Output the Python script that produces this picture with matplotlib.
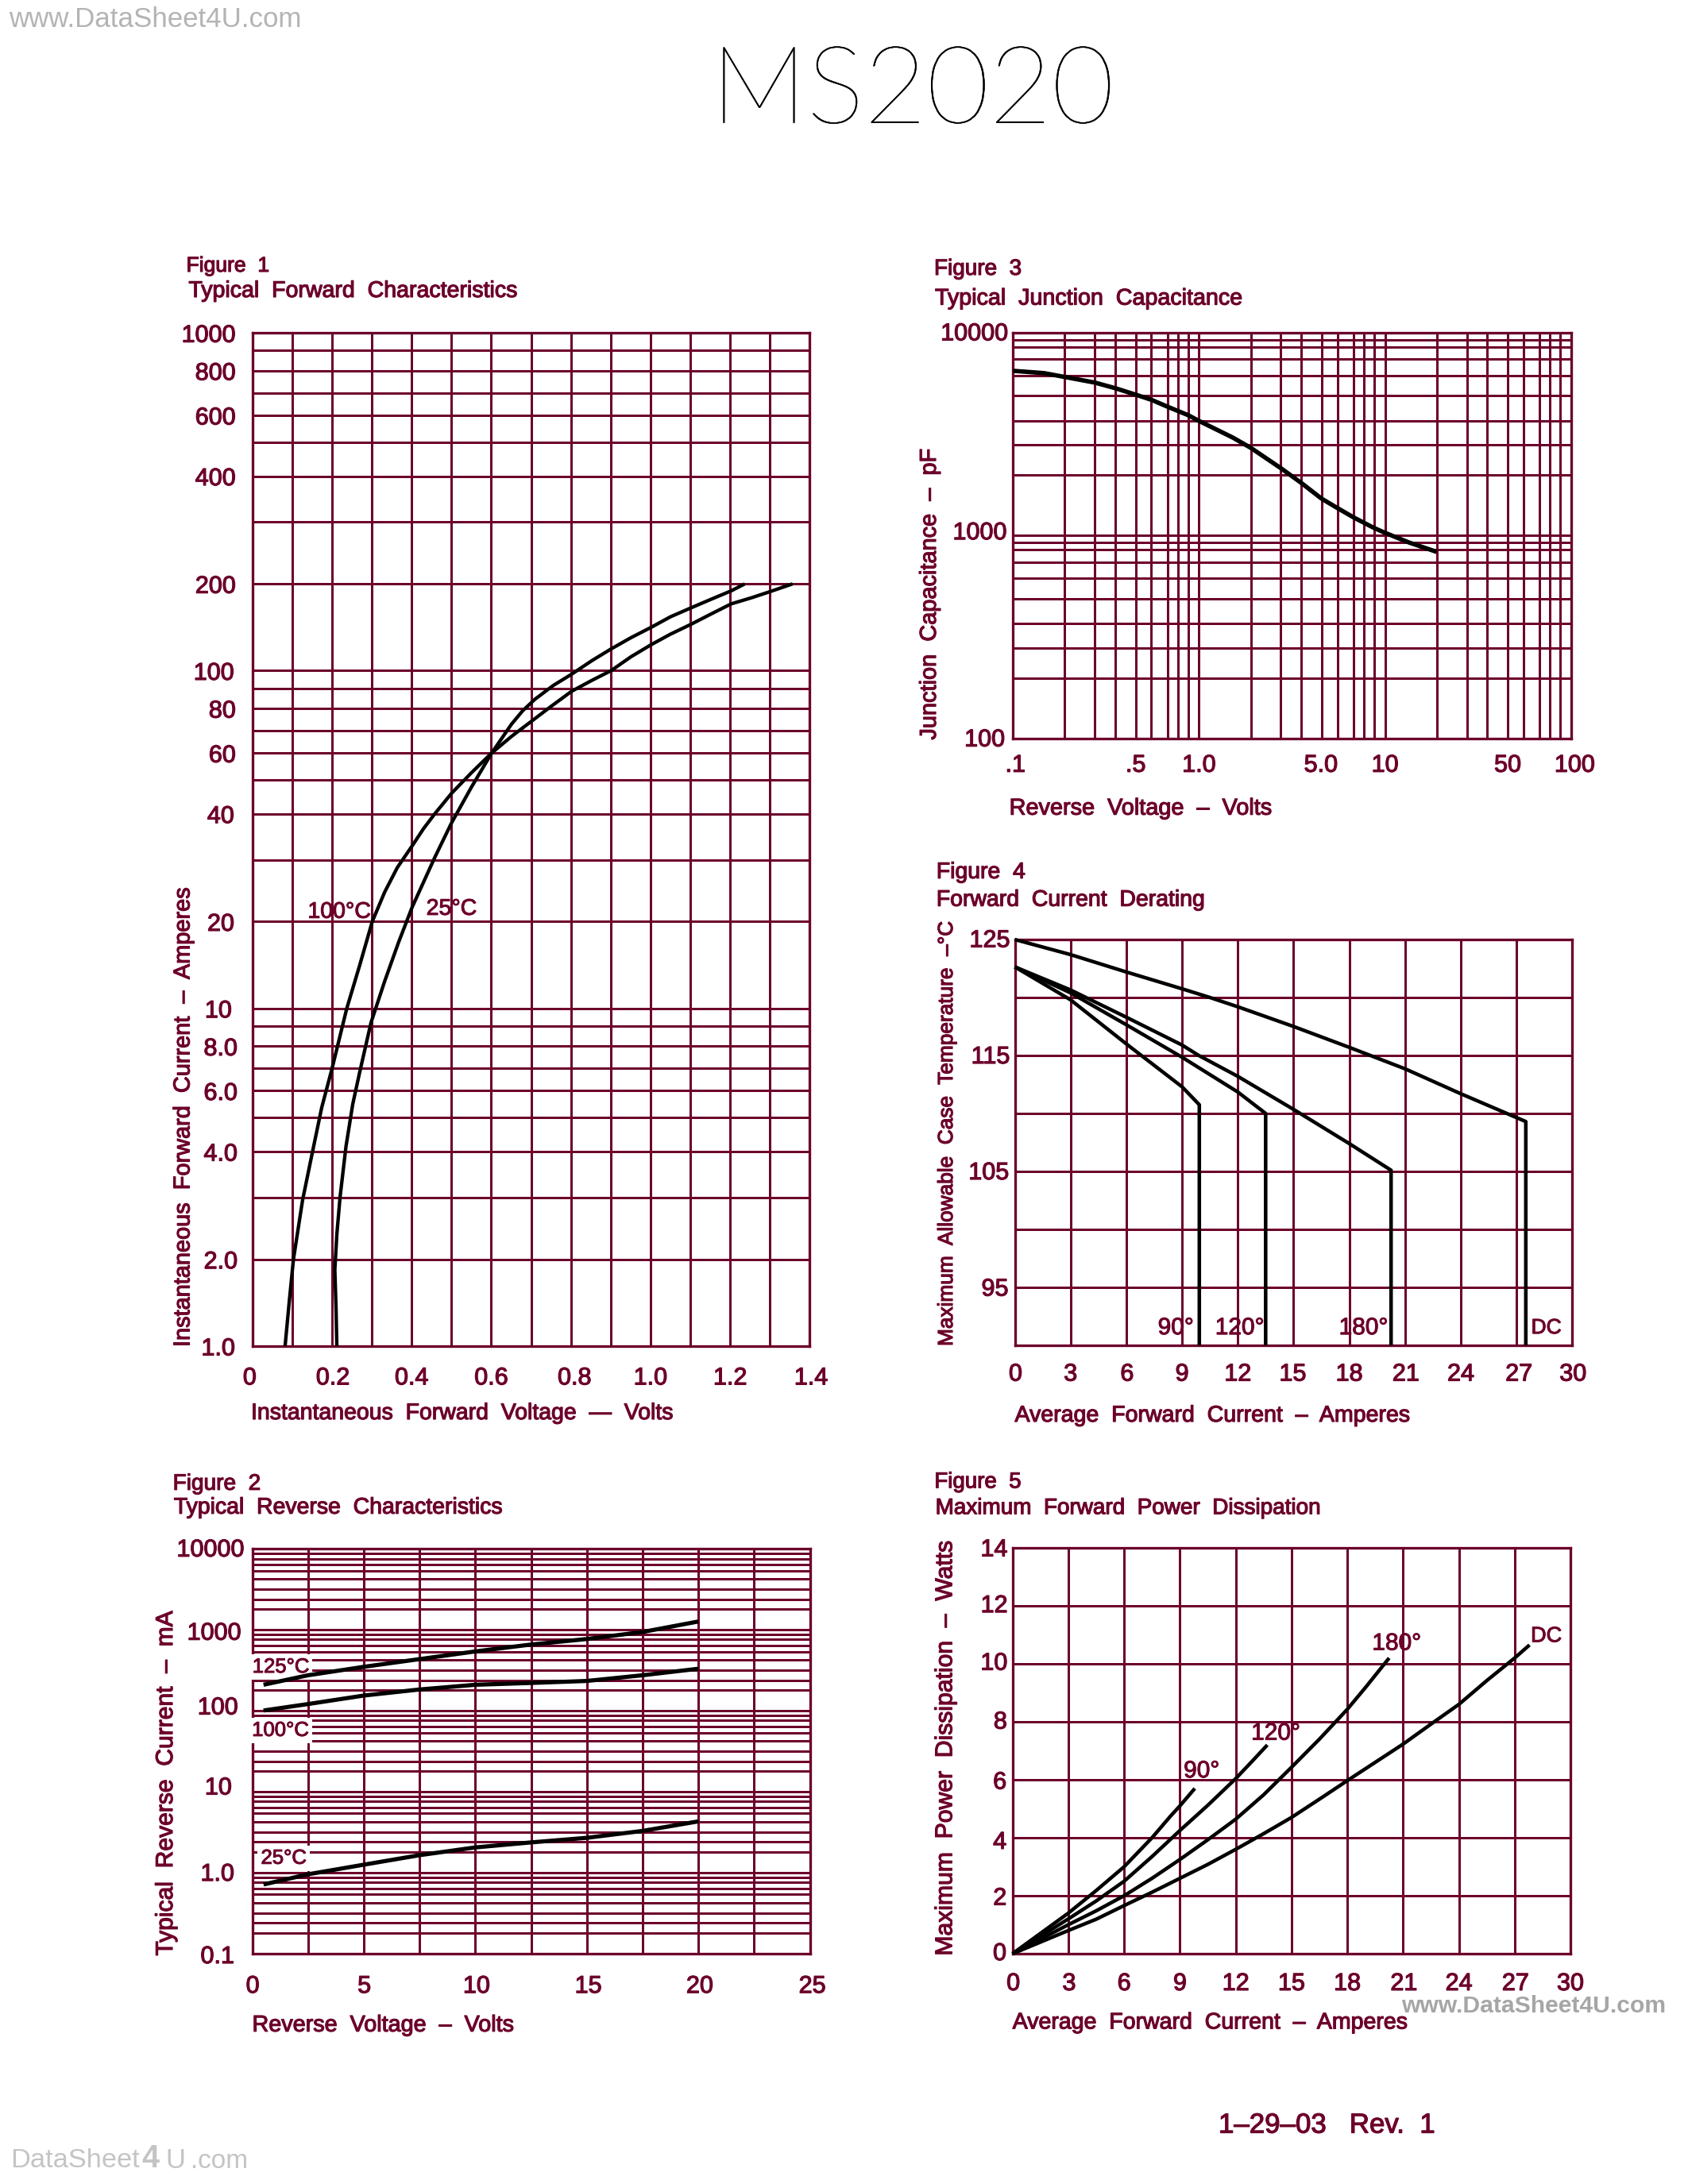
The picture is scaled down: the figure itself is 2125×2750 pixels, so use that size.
import numpy as np
import matplotlib
matplotlib.use("Agg")
import matplotlib.pyplot as plt
import matplotlib.patheffects as pe
from matplotlib.ticker import NullFormatter
from matplotlib.transforms import ScaledTranslation

W, H = 2125, 2750
DPI = 250
MAROON = "#6c002b"
plt.rcParams["font.family"] = ["Liberation Sans", "DejaVu Sans"]

# ---------- data ----------
DECADE_VALUES = [1, 2, 3, 4, 5, 6, 7, 8, 9, 10]
fig1_y_pos = [0, .257, .44, .576, .677, .756, .822, .888, .948, 1]
fig2_y_pos = [0, .25, .374, .5, .625, .728, .80, .877, .941, 1]
fig3_y_pos = [0, .298, .446, .567, .689, .788, .869, .929, .966, 1]
fig3_x_pos = [0, .278, .44, .55, .659, .744, .831, .886, .941, 1]

fig1_100_v = [.082, .092, .103, .126, .151, .174, .2, .237, .269, .301, .332, .364, .401, .43, .458, .5, .55, .601, .651, .679, .71, .756, .802, .853, .901, .951, 1.002, 1.05, 1.1, 1.151, 1.203, 1.237]
fig1_100_i = [1, 1.49, 2, 2.96, 4, 5.37, 7, 10, 14.9, 20, 24.75, 28.75, 33, 36.8, 40, 46, 52.6, 60, 73, 79, 84.6, 91.6, 98, 111.6, 125, 138, 150, 162, 172, 182, 192, 200]
fig1_25_v = [.212, .21, .207, .212, .22, .235, .252, .269, .298, .332, .367, .401, .458, .5, .55, .601, .651, .699, .75, .802, .853, .901, .951, 1.002, 1.05, 1.1, 1.151, 1.203, 1.254, 1.3, 1.357]
fig1_25_i = [1, 1.44, 1.88, 2.4, 3, 4.15, 5.5, 6.8, 9.2, 13.1, 17.6, 22.3, 30.5, 38, 47.8, 60, 67.5, 74, 81, 88.5, 94.5, 100, 116, 130, 142, 153, 165, 177, 184, 191, 200]

fig2_v = [.5, 2.5, 5, 7.5, 10, 12.5, 15, 17.5, 20]
fig2_125 = [255, 349, 432, 510, 603, 720, 810, 950, 1400]
fig2_100 = [100, 132, 174, 208, 255, 273, 293, 349, 413]
fig2_25 = [.765, .96, 1.38, 1.85, 2.47, 2.97, 3.42, 4.1, 5.05]

fig3_v = [.1, .16, .2, .3, .4, .5, .6, .7, .9, 1, 1.65, 2, 3, 4, 5, 6, 7, 9, 10, 14.6, 20]
fig3_c = [6300, 6160, 5940, 5660, 5380, 5060, 4840, 4560, 4220, 3985, 3310, 2910, 2230, 1870, 1610, 1455, 1300, 1125, 1045, 900, 784]

fig4_dc_i = [0, 3, 6, 9, 10.5, 12, 15, 18, 21, 24, 27.5, 27.5]
fig4_dc_t = [125, 123.7, 122.2, 120.75, 120, 119.2, 117.5, 115.7, 113.85, 111.7, 109.3, 90]
fig4_180_i = [0, 3, 6, 9, 9.9, 12, 15, 18, 20.25, 20.25]
fig4_180_t = [122.64, 120.65, 118.3, 115.9, 115, 113.2, 110.35, 107.4, 105.1, 90]
fig4_120_i = [0, 3, 6, 9, 12, 13.5, 13.5]
fig4_120_t = [122.64, 120.4, 117.65, 114.85, 111.85, 110, 90]
fig4_90_i = [0, 3, 6, 9, 9.93, 9.93]
fig4_90_t = [122.64, 119.8, 116, 112.3, 110.75, 90]

fig5_dc_i = [0, 1.5, 3, 4.5, 6, 7.5, 9, 10.5, 12, 13.5, 15, 16.5, 18, 19.5, 21, 22.5, 24, 25.5, 27, 27.8]
fig5_dc_p = [0, .4, .8, 1.19, 1.66, 2.12, 2.6, 3.08, 3.6, 4.14, 4.7, 5.33, 5.97, 6.6, 7.23, 7.92, 8.6, 9.42, 10.2, 10.65]
fig5_180_i = [0, 1.5, 3, 4.5, 6, 7.5, 9, 10.5, 12, 13.5, 15, 16.5, 18, 19, 20.25]
fig5_180_p = [0, .5, 1, 1.48, 2, 2.6, 3.25, 3.93, 4.64, 5.48, 6.43, 7.4, 8.43, 9.2, 10.2]
fig5_120_i = [0, 1.5, 3, 4.5, 6, 7.5, 9, 10.5, 12, 12.9, 13.7]
fig5_120_p = [0, .6, 1.2, 1.82, 2.5, 3.35, 4.25, 5.12, 6.04, 6.65, 7.2]
fig5_90_i = [0, 1.5, 3, 4.5, 6, 7.5, 8.5, 9, 9.8]
fig5_90_p = [0, .7, 1.4, 2.18, 3, 4, 4.75, 5.1, 5.7]

fig1_xticks = [0, .2, .4, .6, .8, 1.0, 1.2, 1.4]
fig1_xlabels = ["0", "0.2", "0.4", "0.6", "0.8", "1.0", "1.2", "1.4"]
fig1_yticks = [1, 2, 4, 6, 8, 10, 20, 40, 60, 80, 100, 200, 400, 600, 800, 1000]
fig1_ylabels = ["1.0", "2.0", "4.0", "6.0", "8.0", "10", "20", "40", "60", "80", "100", "200", "400", "600", "800", "1000"]
fig2_xticks = [0, 5, 10, 15, 20, 25]
fig2_yticks = [.1, 1, 10, 100, 1000, 10000]
fig2_ylabels = ["0.1", "1.0", "10", "100", "1000", "10000"]
fig3_xticks = [.1, .5, 1, 5, 10, 50, 100]
fig3_xlabels = [".1", ".5", "1.0", "5.0", "10", "50", "100"]
fig3_yticks = [100, 1000, 10000]
fig45_xticks = [0, 3, 6, 9, 12, 15, 18, 21, 24, 27, 30]
fig4_yticks = [95, 105, 115, 125]
fig5_yticks = [0, 2, 4, 6, 8, 10, 12, 14]

# ---------- helpers ----------
fig = plt.figure(figsize=(W / DPI, H / DPI), dpi=DPI, facecolor="white")
renderer = fig.canvas.get_renderer()


def box(l, t, r, b):
    return [l / W, 1 - b / H, (r - l) / W, (b - t) / H]


def fit(text, x0, x1, yc, color=MAROON, weight="normal", family=None, stroke=0.35):
    t = fig.text(x0 / W, 1 - yc / H, text, ha="left", va="center", color=color,
                 fontsize=8, fontweight=weight)
    if family:
        t.set_family(family)
    w = t.get_window_extent(renderer).width
    t.set_fontsize(8 * (x1 - x0) / w)
    if stroke:
        t.set_path_effects([pe.withStroke(linewidth=stroke, foreground=color)])
    return t


def fitv(text, xc, y_bottom, y_top, color=MAROON):
    t = fig.text(xc / W, 1 - y_bottom / H, text, ha="center", va="bottom", rotation=90,
                 color=color, fontsize=8)
    h = t.get_window_extent(renderer).height
    t.set_fontsize(8 * (y_bottom - y_top) / h)
    t.set_path_effects([pe.withStroke(linewidth=.35, foreground=color)])
    return t


def paper_scale(pos):
    def fwd(v):
        v = np.maximum(np.asarray(v, dtype=float), 1e-9)
        d = np.floor(np.log10(v) + 1e-9)
        return d + np.interp(v / 10 ** d, DECADE_VALUES, pos)

    def inv(p):
        p = np.asarray(p, dtype=float)
        d = np.floor(p)
        return 10 ** d * np.interp(p - d, pos, DECADE_VALUES)

    return fwd, inv


def decades(lo, hi):
    out = []
    d = lo
    while d < hi * .999:
        out += [d * k for k in DECADE_VALUES[:-1]]
        d *= 10
    return out + [hi]


def nudge(labels, dxs, dys):
    for lab, dx, dy in zip(labels, dxs, dys):
        lab.set_transform(lab.get_transform() +
                          ScaledTranslation(dx / DPI, -dy / DPI, fig.dpi_scale_trans))


def style(ax, major_lw, minor_lw, xpad, ypad, fs=8.8, frame_lw=.95,
          xdx=None, ydx=None, ydy=None):
    ax.grid(True, which="major", color=MAROON, lw=major_lw, zorder=1, antialiased=False)
    ax.grid(True, which="minor", color=MAROON, lw=minor_lw, zorder=1, antialiased=False)
    ax.tick_params(which="both", length=0, labelcolor=MAROON, labelsize=fs)
    ax.tick_params(axis="x", pad=xpad)
    ax.tick_params(axis="y", pad=ypad)
    ax.set_axisbelow(True)
    for s in ax.spines.values():
        s.set_color(MAROON)
        s.set_linewidth(frame_lw)
    xl, yl = ax.get_xticklabels(), ax.get_yticklabels()
    for lab in xl + yl:
        lab.set_path_effects([pe.withStroke(linewidth=.35, foreground=MAROON)])
    if xdx:
        nudge(xl, xdx, [0] * len(xl))
    if ydx or ydy:
        nudge(yl, ydx or [0] * len(yl), ydy or [0] * len(yl))


def curve(ax, x, y, lw=1.2):
    ax.plot(x, y, color="black", lw=lw, solid_capstyle="butt", solid_joinstyle="round",
            zorder=5, clip_on=False)


def note(ax, x, y, s, bbox=False, fs=8.2):
    t = ax.text(x, y, s, color=MAROON, fontsize=fs, ha="center", va="center", zorder=4,
                path_effects=[pe.withStroke(linewidth=.3, foreground=MAROON)])
    if bbox:
        t.set_bbox(dict(fc="white", ec="none", pad=1.2))
    return t


# ---------- Figure 1 ----------
ax = fig.add_axes(box(317.8, 419.2, 1019.3, 1695))
ax.set_yscale("function", functions=paper_scale(fig1_y_pos))
ax.set_xlim(0, 1.4)
ax.set_ylim(1, 1000)
ax.set_xticks(fig1_xticks, fig1_xlabels)
ax.set_xticks([.1, .3, .5, .7, .9, 1.1, 1.3], minor=True)
ax.set_yticks(fig1_yticks, fig1_ylabels)
ax.set_yticks([v for v in decades(1, 1000) if v not in fig1_yticks], minor=True)
ax.yaxis.set_minor_formatter(NullFormatter())
ax.xaxis.set_minor_formatter(NullFormatter())
style(ax, .82, .72, xpad=7.3, ypad=6,
      xdx=[-3.4, 1, 0, 0, 4.6, 0, 0, 1.7],
      ydx=[-1, 2, 2, 2, 2, -5, -2, -2, 0, 0, -2, 0, 0, 0, 0, 0])
curve(ax, fig1_100_v, fig1_100_i, 1.25)
curve(ax, fig1_25_v, fig1_25_i, 1.25)
note(ax, .218, 21.5, "100°C")
note(ax, .5, 22, "25°C")

# ---------- Figure 2 ----------
ax = fig.add_axes(box(317.7, 1950, 1019.6, 2459.5))
ax.set_yscale("function", functions=paper_scale(fig2_y_pos))
ax.set_xlim(0, 25)
ax.set_ylim(.1, 10000)
ax.set_xticks(fig2_xticks, [str(v) for v in fig2_xticks])
ax.set_xticks(np.arange(2.5, 25, 5), minor=True)
ax.set_yticks(fig2_yticks, fig2_ylabels)
ax.set_yticks([v for v in decades(.1, 10000) if v not in fig2_yticks], minor=True)
ax.yaxis.set_minor_formatter(NullFormatter())
ax.xaxis.set_minor_formatter(NullFormatter())
style(ax, .85, .85, xpad=7.7, ypad=2.8,
      xdx=[.5, .5, 1.5, 1.7, 1.7, 2.9],
      ydx=[-13, -13, -16, -8, -4, 0],
      ydy=[1, -1, -7.7, -6.7, 1.3, -1.7])
curve(ax, fig2_v, fig2_125, 1.5)
curve(ax, fig2_v, fig2_100, 1.5)
curve(ax, fig2_v, fig2_25, 1.5)
note(ax, 1.27, 430, "125°C", bbox=True, fs=7.4)
note(ax, 1.25, 63.6, "100°C", bbox=True, fs=7.4)
note(ax, 1.4, 1.7, "25°C", bbox=True, fs=7.4)

# ---------- Figure 3 ----------
ax = fig.add_axes(box(1275.2, 419, 1977.9, 929.7))
ax.set_xscale("function", functions=paper_scale(fig3_x_pos))
ax.set_yscale("function", functions=paper_scale(fig3_y_pos))
ax.set_xlim(.1, 100)
ax.set_ylim(100, 10000)
ax.set_xticks(fig3_xticks, fig3_xlabels)
ax.set_xticks([v for v in decades(.1, 100) if v not in fig3_xticks], minor=True)
ax.set_yticks(fig3_yticks, [str(v) for v in fig3_yticks])
ax.set_yticks([v for v in decades(100, 10000) if v not in fig3_yticks], minor=True)
ax.yaxis.set_minor_formatter(NullFormatter())
ax.xaxis.set_minor_formatter(NullFormatter())
style(ax, .85, .85, xpad=5.5, ypad=1.6,
      xdx=[3, 0, 0, -1, 0, 0, 4.6],
      ydx=[-4.3, -1.8, 0], ydy=[-1.5, -6.7, -2])
curve(ax, fig3_v, fig3_c, 1.6)

# ---------- Figure 4 ----------
ax = fig.add_axes(box(1277.5, 1183, 1979.3, 1694))
ax.set_xlim(0, 30)
ax.set_ylim(90, 125)
ax.set_xticks(fig45_xticks, [str(v) for v in fig45_xticks])
ax.set_yticks(fig4_yticks, [str(v) for v in fig4_yticks])
ax.set_yticks([90, 100, 110, 120], minor=True)
ax.yaxis.set_minor_formatter(NullFormatter())
style(ax, .82, .82, xpad=6.2, ypad=1.8,
      xdx=[1, 0, 1, 0, 0, -1, 0, 1, 0, 3, 1],
      ydx=[-2, -1, 0, 0], ydy=[-1, -1.5, -1.5, -2])
for xs, ys in [(fig4_dc_i, fig4_dc_t), (fig4_180_i, fig4_180_t), (fig4_120_i, fig4_120_t), (fig4_90_i, fig4_90_t)]:
    curve(ax, xs, ys, 1.3)
note(ax, 8.66, 91.5, "90°", fs=8.6)
note(ax, 12.1, 91.5, "120°", fs=8.6)
note(ax, 18.76, 91.5, "180°", fs=8.6)
note(ax, 28.6, 91.5, "DC", fs=7.6)

# ---------- Figure 5 ----------
ax = fig.add_axes(box(1274.7, 1949, 1977, 2460))
ax.set_xlim(0, 30)
ax.set_ylim(0, 14)
ax.set_xticks(fig45_xticks, [str(v) for v in fig45_xticks])
ax.set_yticks(fig5_yticks, [str(v) for v in fig5_yticks])
style(ax, .82, .82, xpad=6.6, ypad=1.8,
      xdx=[1, 1, 0, 0, 0, 0, 0, 1, 0, 1, 0],
      ydx=[-1.3, -1.3, -1.3, -1.3, -.6, 0, 0, 0],
      ydy=[-3.4, 0, 2.4, 0, -2.9, -3.9, -3.4, -1])
for xs, ys in [(fig5_dc_i, fig5_dc_p), (fig5_180_i, fig5_180_p), (fig5_120_i, fig5_120_p), (fig5_90_i, fig5_90_p)]:
    curve(ax, xs, ys, 1.3)
note(ax, 10.16, 6.3, "90°", fs=8.6)
note(ax, 14.15, 7.6, "120°", fs=8.6)
note(ax, 20.65, 10.7, "180°", fs=8.6)
note(ax, 28.7, 10.95, "DC", fs=7.8)

# ---------- page text ----------
fit("Figure  1", 234.5, 339, 335)
fit("Typical  Forward  Characteristics", 237.4, 650.7, 366)
fit("Instantaneous  Forward  Voltage  —  Volts", 316, 846, 1780)
fitv("Instantaneous  Forward  Current  –  Amperes", 230.5, 1696, 1119)

fit("Figure  2", 217.6, 328, 1868.8)
fit("Typical  Reverse  Characteristics", 218.8, 632, 1898.8)
fit("Reverse  Voltage  –  Volts", 317.5, 646.5, 2549.8)
fitv("Typical  Reverse  Current  –  mA", 209, 2462.6, 2028.7)

fit("Figure  3", 1176, 1286, 339)
fit("Typical  Junction  Capacitance", 1177, 1563.4, 375.6)
fit("Reverse  Voltage  –  Volts", 1270.6, 1600.7, 1017.7)
fitv("Junction  Capacitance  –  pF", 1170, 931.6, 565.6)

fit("Figure  4", 1178.8, 1290.7, 1098.8)
fit("Forward  Current  Derating", 1178.8, 1515.8, 1133.7)
fit("Average  Forward  Current  –  Amperes", 1277.5, 1774, 1782)
fitv("Maximum  Allowable  Case  Temperature  –°C", 1192, 1695, 1160.8)

fit("Figure  5", 1176.3, 1285.5, 1866.4)
fit("Maximum  Forward  Power  Dissipation", 1177.6, 1661.7, 1899.3)
fit("Average  Forward  Current  –  Amperes", 1274.7, 1770.9, 2547.4)
fitv("Maximum  Power  Dissipation  –  Watts", 1190.3, 2462.6, 1940.5)

fit("1–29–03   Rev.  1", 1534, 1807, 2676)
fit("MS2020", 895, 1402, 118, color="black", weight="light",
    family=["Lato", "Liberation Sans"], stroke=.15)

fit("www.DataSheet4U.com", 11.5, 378, 25, color="#b4b4b4", stroke=0)
fit("www.DataSheet4U.com", 1764.5, 2099, 2525.6, color="#a6a6a6", weight="bold", stroke=0)
fit("DataSheet", 13, 175, 2720.5, color="#c4c4c4", stroke=0)
fit("4", 178, 200, 2718, color="#c4c4c4", weight="bold", stroke=0)
fit("U", 208, 233, 2720.5, color="#c4c4c4", stroke=0)
fit(".com", 240, 312, 2722, color="#c4c4c4", stroke=0)

fig.savefig("out.png", dpi=DPI, facecolor="white")
